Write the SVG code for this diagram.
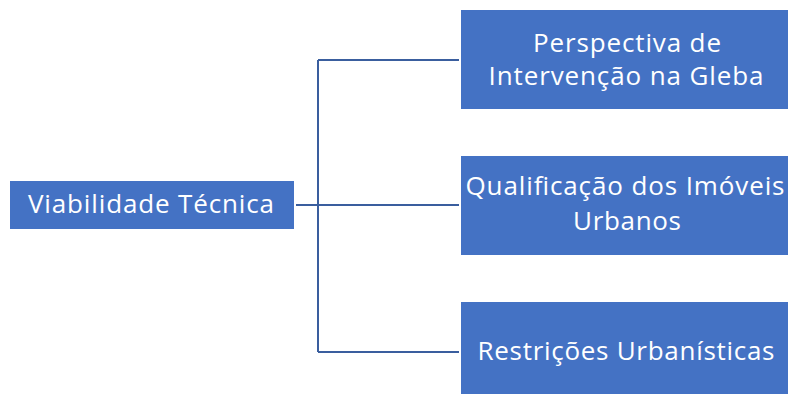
<svg xmlns="http://www.w3.org/2000/svg" width="788" height="394" viewBox="0 0 788 394">
<style>
.box{fill:#4472C4;}
.t{font-family:"Open Sans","Liberation Sans",sans-serif;font-size:26px;fill:#fff;text-anchor:middle;}
.c{fill:none;stroke:#3A5E9E;stroke-width:2;}
</style>
<rect width="788" height="394" fill="#fff"/>
<g id="connectors">
<path class="c" d="M296 205H459M318 60V352M318 60H459M318 352H459"/>
</g>
<g id="root">
<rect class="box" x="10" y="181" width="284" height="48"/>
<text class="t" x="151" y="213" textLength="246">Viabilidade Técnica</text>
</g>
<g id="n1">
<rect class="box" x="461" y="10" width="327" height="99"/>
<text class="t" x="627" y="52" textLength="188">Perspectiva de</text>
<text class="t" x="626" y="85" textLength="275">Intervenção na Gleba</text>
</g>
<g id="n2">
<rect class="box" x="461" y="156" width="327" height="99"/>
<text class="t" x="625" y="195" textLength="319">Qualificação dos Imóveis</text>
<text class="t" x="627" y="230" textLength="108">Urbanos</text>
</g>
<g id="n3">
<rect class="box" x="461" y="302" width="327" height="92"/>
<text class="t" x="626" y="360" textLength="297">Restrições Urbanísticas</text>
</g>
</svg>
